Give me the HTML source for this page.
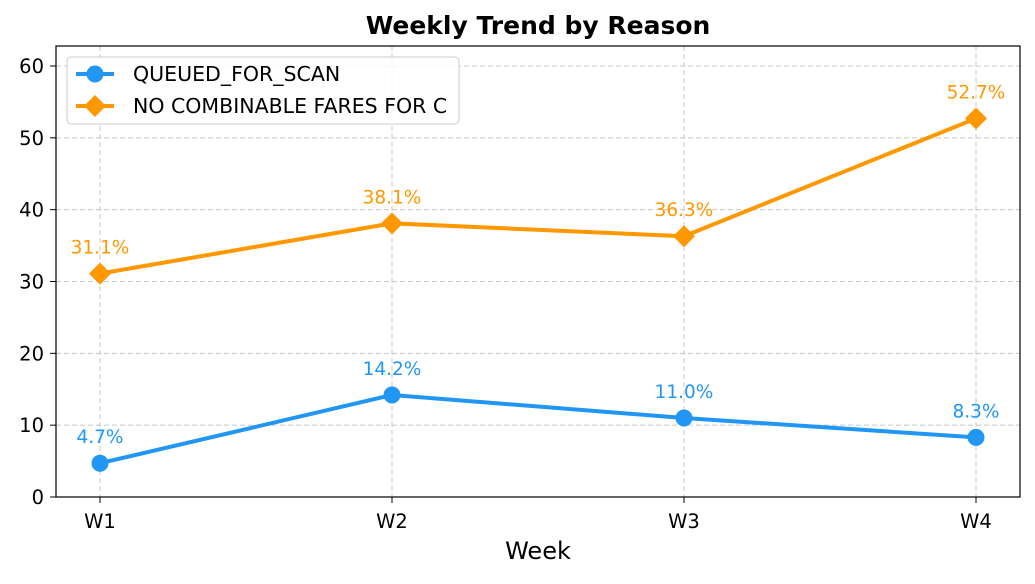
<!DOCTYPE html>
<html><head><meta charset="utf-8"><style>
body{margin:0;background:#fff;font-family:"Liberation Sans","DejaVu Sans",sans-serif}
</style></head><body>
<svg id="chart" width="1035" height="579" xmlns="http://www.w3.org/2000/svg" font-family="DejaVu Sans, Liberation Sans, sans-serif">
<rect width="1035" height="579" fill="#fff"/>
<text x="538" y="34" text-anchor="middle" font-size="25" font-weight="bold">Weekly Trend by Reason</text>
<g id="grid"></g><g id="axes"></g><g id="series"></g>
<rect x="56" y="46" width="964" height="451" fill="none" stroke="#000" stroke-width="1.2"/>
<text x="538" y="559" text-anchor="middle" font-size="24">Week</text>
<g>
<rect x="67" y="57" width="392" height="67" rx="4" fill="#fff" fill-opacity="0.8" stroke="#ccc"/>
<line x1="76" y1="74" x2="114" y2="74" stroke="#2196F3" stroke-width="4"/>
<circle cx="95" cy="74" r="8.5" fill="#2196F3"/>
<text x="133" y="81" font-size="20.5">QUEUED_FOR_SCAN</text>
<line x1="76" y1="106" x2="114" y2="106" stroke="#FF9800" stroke-width="4"/>
<polygon points="95,95 106,106 95,117 84,106" fill="#FF9800"/>
<text x="133" y="113" font-size="20.5">NO COMBINABLE FARES FOR C</text>
</g>
</svg>
<script>
const weeks=["W1","W2","W3","W4"];
const queued=[4.7,14.2,11.0,8.3];
const noCombinable=[31.1,38.1,36.3,52.7];
const yTicks=[0,10,20,30,40,50,60];
const NS="http://www.w3.org/2000/svg";
const x0=100,dx=292,yBase=497,yScale=431/60;
const X=i=>x0+i*dx, Y=v=>yBase-v*yScale;
function mk(t,a,p,txt){const e=document.createElementNS(NS,t);for(const k in a)e.setAttribute(k,a[k]);if(txt!==undefined)e.textContent=txt;p.appendChild(e);return e;}
const grid=document.getElementById('grid'),axes=document.getElementById('axes'),ser=document.getElementById('series');
yTicks.forEach(v=>{
 const g=mk('line',{x1:56,x2:1020,y1:Y(v),y2:Y(v),stroke:'#c8c8c8','stroke-dasharray':'5,3'},grid);
 
 
 mk('line',{x1:50,x2:56,y1:Y(v),y2:Y(v),stroke:'#000'},axes);
 const t=mk('text',{x:44,y:Y(v)+7,'text-anchor':'end','font-size':19.5},axes,String(v));
 
 
});
weeks.forEach((w,i)=>{
 const g=mk('line',{x1:X(i),x2:X(i),y1:46,y2:497,stroke:'#c8c8c8','stroke-dasharray':'5,3'},grid);
 
 
 mk('line',{x1:X(i),x2:X(i),y1:497,y2:503,stroke:'#000'},axes);
 const t=mk('text',{x:X(i),y:528,'text-anchor':'middle','font-size':19.5},axes,w);
 
 
});
function series(vals,color,marker,name){
 const pl=mk('polyline',{points:vals.map((v,i)=>X(i)+','+Y(v)).join(' '),fill:'none',stroke:color,'stroke-width':4},ser);
 
 
 vals.forEach((v,i)=>{
  const x=X(i),y=Y(v);let m;
  if(marker==='circle')m=mk('circle',{cx:x,cy:y,r:8.5,fill:color},ser);
  else m=mk('polygon',{points:`${x},${y-11} ${x+11},${y} ${x},${y+11} ${x-11},${y}`,fill:color},ser);
  
  
  const t=mk('text',{x:x,y:y-20,'text-anchor':'middle','font-size':18.5,fill:color},ser,v.toFixed(1)+'%');
  
  
 });
}
series(queued,'#2196F3','circle','queued');
series(noCombinable,'#FF9800','diamond','no-combinable');
</script>
</body></html>
